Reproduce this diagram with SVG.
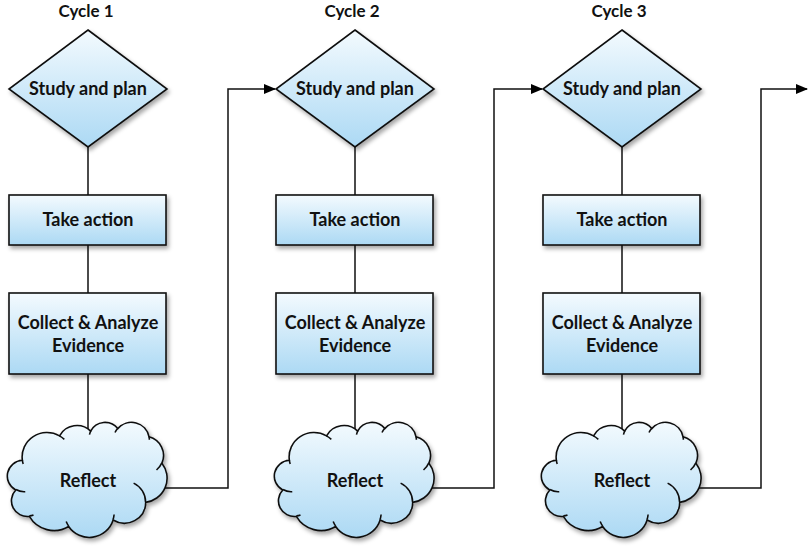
<svg xmlns="http://www.w3.org/2000/svg" width="808" height="552" viewBox="0 0 808 552">
<defs>
<linearGradient id="g" x1="0" y1="0" x2="0" y2="1">
<stop offset="0" stop-color="#f3fafe"/>
<stop offset="1" stop-color="#acd9f4"/>
</linearGradient>
<filter id="sh" x="-10%" y="-10%" width="130%" height="130%">
<feDropShadow dx="2" dy="3" stdDeviation="2" flood-color="#000" flood-opacity="0.35"/>
</filter>
<marker id="ar" markerWidth="12" markerHeight="10" refX="11" refY="5" orient="auto" markerUnits="userSpaceOnUse">
<path d="M0,0 L12,5 L0,10 Z" fill="#000"/>
</marker>
<g id="cloud" transform="scale(0.0036806,0.0026620)">
<path class="cl" d="M3900,14370 A6753,9190 0 0 1 14005,5202 A5333,7267 0 0 1 22456,3433 A4365,5945 0 0 1 29833,2481 A4857,6595 0 0 1 38318,5576 A5333,7273 0 0 1 41818,15460 A6775,9220 0 0 1 37404,30204 A5785,7867 0 0 1 28556,36814 A6752,9215 0 0 1 16481,39266 A7720,10543 0 0 1 5806,35473 A4360,5918 0 0 1 2114,25551 A4345,5945 0 0 1 3900,14370 Z"/>
<path class="curl" d="M4693,26177 A4345,5945 0 0 1 2160,25380 M6928,34899 A4360,5918 0 0 1 5820,35280 M16478,39090 A6752,9215 0 0 1 15810,37350 M28827,34751 A6752,9215 0 0 1 28560,36660 M34129,22954 A5785,7867 0 0 1 37380,30090 M41798,15354 A5333,7273 0 0 1 40350,18030 M38324,5426 A4857,6595 0 0 1 38400,6690 M29078,3952 A4857,6595 0 0 1 29820,2339 M22141,4720 A4365,5945 0 0 1 22500,3330 M14000,5192 A6753,9190 0 0 1 15300,6540 M4127,15789 A6753,9190 0 0 1 3900,14370"/>
</g>
</defs>
<style>
.shape{fill:url(#g);stroke:#111;stroke-width:1.6;filter:url(#sh)}
.sg{filter:url(#sh)}
.cl{fill:url(#g);stroke:#111;stroke-width:1.6;vector-effect:non-scaling-stroke}
.curl{fill:none;stroke:#111;stroke-width:1.6;vector-effect:non-scaling-stroke}
.t{font-family:"Lato","Open Sans","Liberation Sans",sans-serif;font-weight:bold;font-size:18px;fill:#111;text-anchor:middle}
.title{font-size:17px}
.ln{fill:none;stroke:#111;stroke-width:1.5}
</style>
<g id="connectors">
<path class="ln" d="M88,147 V195 M88,245 V293 M88,374 V432"/>
<path class="ln" d="M355,147 V195 M355,245 V293 M355,374 V432"/>
<path class="ln" d="M622,147 V195 M622,245 V293 M622,374 V432"/>
<path class="ln" d="M164,488 H228 V89 H275" marker-end="url(#ar)"/>
<path class="ln" d="M431,488 H494 V89 H542" marker-end="url(#ar)"/>
<path class="ln" d="M698,488 H761 V89 H807" marker-end="url(#ar)"/>
</g>
<g id="title1"><text class="t title" x="86" y="17">Cycle 1</text></g>
<g id="title2"><text class="t title" x="352" y="17">Cycle 2</text></g>
<g id="title3"><text class="t title" x="619" y="17">Cycle 3</text></g>

<g id="plan1"><polygon class="shape" points="88,30 167,89 88,147 9,89"/><text class="t" x="88" y="95">Study and plan</text></g>
<g id="action1"><rect class="shape" x="9" y="195" width="157" height="50"/><text class="t" x="88" y="226">Take action</text></g>
<g id="collect1"><rect class="shape" x="9" y="293" width="157" height="81"/><text class="t" x="88" y="329">Collect &amp; Analyze</text><text class="t" x="88" y="352">Evidence</text></g>
<g id="reflect1"><g class="sg"><use href="#cloud" transform="translate(8,422)"/></g><text class="t" x="88" y="487">Reflect</text></g>

<g id="plan2"><polygon class="shape" points="355,30 434,89 355,147 276,89"/><text class="t" x="355" y="95">Study and plan</text></g>
<g id="action2"><rect class="shape" x="276" y="195" width="157" height="50"/><text class="t" x="355" y="226">Take action</text></g>
<g id="collect2"><rect class="shape" x="276" y="293" width="157" height="81"/><text class="t" x="355" y="329">Collect &amp; Analyze</text><text class="t" x="355" y="352">Evidence</text></g>
<g id="reflect2"><g class="sg"><use href="#cloud" transform="translate(275,422)"/></g><text class="t" x="355" y="487">Reflect</text></g>

<g id="plan3"><polygon class="shape" points="622,30 701,89 622,147 543,89"/><text class="t" x="622" y="95">Study and plan</text></g>
<g id="action3"><rect class="shape" x="543" y="195" width="157" height="50"/><text class="t" x="622" y="226">Take action</text></g>
<g id="collect3"><rect class="shape" x="543" y="293" width="157" height="81"/><text class="t" x="622" y="329">Collect &amp; Analyze</text><text class="t" x="622" y="352">Evidence</text></g>
<g id="reflect3"><g class="sg"><use href="#cloud" transform="translate(542,422)"/></g><text class="t" x="622" y="487">Reflect</text></g>
</svg>
